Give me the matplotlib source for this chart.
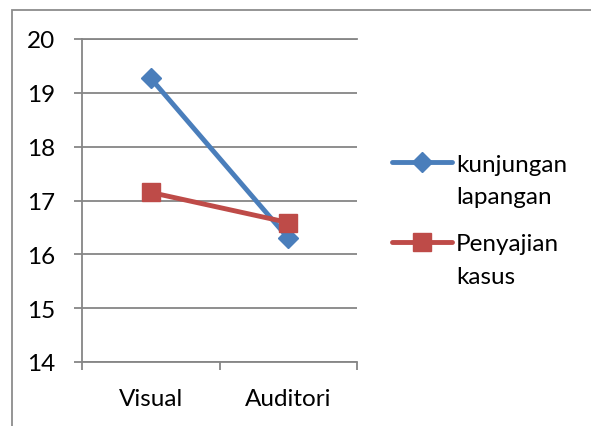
import matplotlib
matplotlib.use("Agg")
import matplotlib.pyplot as plt
from matplotlib.lines import Line2D
from matplotlib.patches import Rectangle

categories = ["Visual", "Auditori"]
kunjungan = [19.27, 16.30]
penyajian = [17.15, 16.59]
series_labels = [["kunjungan", "lapangan"], ["Penyajian", "kasus"]]
y_ticks = [14, 15, 16, 17, 18, 19, 20]

plt.rcParams['font.family'] = ['Lato', 'DejaVu Sans']

fig = plt.figure(figsize=(5.91, 4.27), dpi=100)
ax = fig.add_axes([82 / 591, 1 - 363 / 427, 275 / 591, 323 / 427])

x = range(len(categories))
l1, = ax.plot(x, kunjungan, color='#4a7ebb', lw=3.5, marker='D', markersize=10,
              solid_capstyle='round')
l2, = ax.plot(x, penyajian, color='#be4b48', lw=3.5, marker='s', markersize=13,
              solid_capstyle='round')

ax.set_xlim(-0.5, len(categories) - 0.5)
ax.set_ylim(14, 20)
ax.set_yticks(y_ticks)
ax.yaxis.grid(True, color='#868686', lw=1.3)
ax.set_axisbelow(True)

# category boundaries as major ticks, labels on minor ticks
ax.set_xticks([-0.5, 0.5, 1.5])
ax.set_xticklabels([])
ax.set_xticks(list(x), minor=True)
ax.set_xticklabels(categories, minor=True)
ax.tick_params(axis='x', which='major', length=6, width=1.3, color='#868686')
ax.tick_params(axis='x', which='minor', length=0, pad=19, labelsize=17.5)
ax.tick_params(axis='y', length=6, width=1.3, color='#868686', pad=13, labelsize=17.5)

for side in ['left', 'bottom', 'top']:
    ax.spines[side].set_color('#868686')
    ax.spines[side].set_linewidth(1.3)
ax.spines['right'].set_visible(False)

# legend drawn by hand so the key sits on the first text line (Excel style)
leg_y = [0.619, 0.3715]
line_gap = 0.101
for line, lbl, y in zip([l1, l2], series_labels, leg_y):
    ax.add_line(Line2D([1.127, 1.345], [y, y], transform=ax.transAxes, clip_on=False,
                       color=line.get_color(), lw=line.get_linewidth(),
                       solid_capstyle='round'))
    ax.add_line(Line2D([1.236], [y], transform=ax.transAxes, clip_on=False,
                       color=line.get_color(), marker=line.get_marker(),
                       markersize=line.get_markersize(), linestyle='none'))
    for k, part in enumerate(lbl):
        ax.text(1.36, y - 0.006 - k * line_gap, part, transform=ax.transAxes,
                fontsize=17.5, va='center', ha='left')

fig.add_artist(Rectangle((12 / 591, -0.1), 1.0, 1 - 11 / 427 + 0.1, fill=False,
                         edgecolor='#8c8c8c', lw=1.3, transform=fig.transFigure))

fig.savefig("out.png", dpi=100)
